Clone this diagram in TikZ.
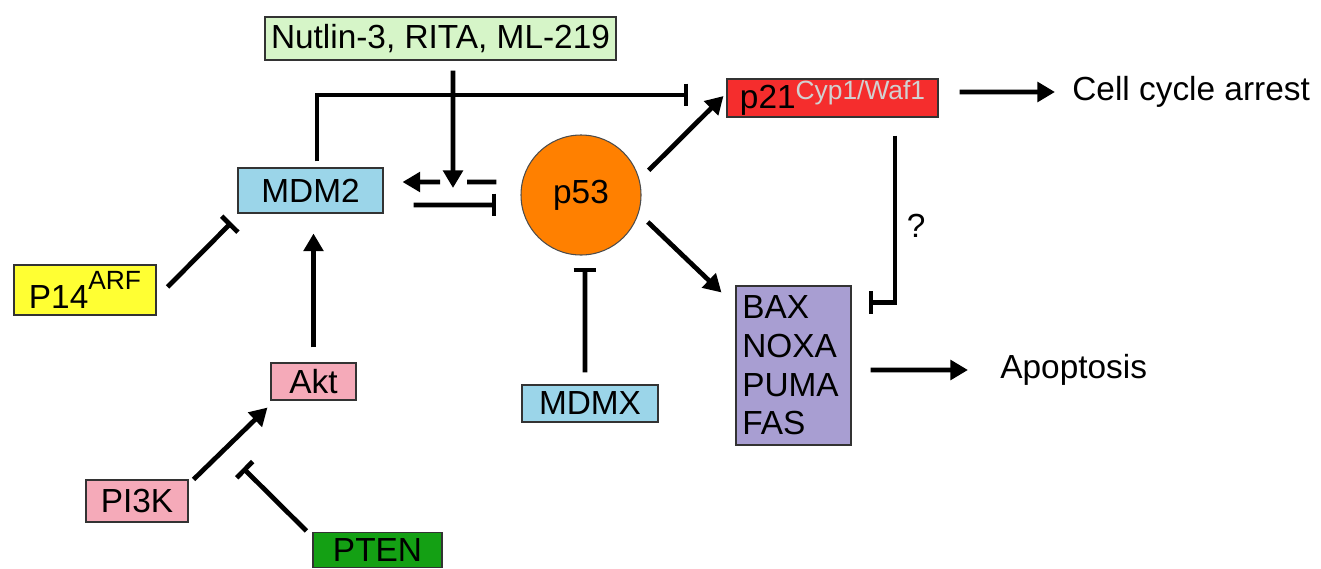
\documentclass[tikz,border=0pt]{standalone}
\usepackage{fontspec}
\setmainfont{Liberation Sans}
\usepackage{xcolor}
\definecolor{nutgreen}{RGB}{214,245,200}
\definecolor{mdmblue}{RGB}{155,213,233}
\definecolor{porange}{RGB}{255,128,0}
\definecolor{pred}{RGB}{245,45,45}
\definecolor{baxpurple}{RGB}{168,158,210}
\definecolor{arfyellow}{RGB}{255,255,51}
\definecolor{aktpink}{RGB}{245,170,185}
\definecolor{ptengreen}{RGB}{20,160,20}
\usepackage{tikz}
\usetikzlibrary{
  arrows.meta,
  positioning
}

\begin{document}
\begin{tikzpicture}[
  box/.style={rectangle, draw=black!80, line width=0.6pt, inner sep=1pt, font=\fontsize{19}{22}\selectfont, align=center},
  txt/.style={inner sep=0pt, font=\fontsize{19}{22}\selectfont, anchor=west},
  arr/.style={-{Triangle[length=10pt,width=11pt]}, line width=2.7pt, black},
  inhib/.style={-{Bar[width=13pt]}, line width=2.7pt, black},
  plain/.style={line width=2.7pt, black}
]
  \useasboundingbox (0,0) rectangle (26.42,11.36);

  \node[box, fill=nutgreen, minimum width=7.02cm, minimum height=0.86cm] (nutlin) at (8.81,10.59) {Nutlin-3, RITA, ML-219};
  \node[box, fill=mdmblue, minimum width=2.9cm, minimum height=0.9cm] (mdm2) at (6.21,7.55) {MDM2};
  \node[circle, draw=black!70, line width=0.6pt, fill=porange, minimum size=2.4cm, font=\fontsize{19}{22}\selectfont] (p53) at (11.62,7.46) {p53};
  \node[box, fill=pred, minimum width=4.22cm, minimum height=0.76cm, inner sep=0pt] (p21) at (16.65,9.40)
    {p21\raisebox{5pt}{\fontsize{15}{15}\selectfont\color{white!82!black}Cyp1/Waf1}};
  \node[txt] (cca) at (21.44,9.52) {Cell cycle arrest};
  \node[box, fill=baxpurple, minimum width=2.3cm, minimum height=3.18cm, align=left, text width=2.05cm] (bax) at (15.87,4.05)
    {BAX\\NOXA\\PUMA\\FAS};
  \node[txt] (apop) at (20.0,3.96) {Apoptosis};
  \node[box, fill=arfyellow, minimum width=2.84cm, minimum height=1.0cm] (p14) at (1.70,5.56)
    {P14\raisebox{10.8pt}{\fontsize{15}{15}\selectfont ARF}};
  \node[box, fill=aktpink, minimum width=1.7cm, minimum height=0.74cm] (akt) at (6.27,3.73) {Akt};
  \node[box, fill=aktpink, minimum width=2.04cm, minimum height=0.84cm] (pi3k) at (2.74,1.34) {PI3K};
  \node[box, fill=ptengreen, minimum width=2.58cm, minimum height=0.7cm, inner sep=0pt] (pten) at (7.55,0.36) {PTEN};
  \node[box, fill=mdmblue, minimum width=2.72cm, minimum height=0.74cm] (mdmx) at (11.80,3.29) {MDMX};

  \coordinate (hit) at (9.06,7.60);
  \coordinate (gapR) at (9.34,7.72);
  \coordinate (gapL) at (8.80,7.72);
  \coordinate (ptenhit) at (4.86,2.00);

  \draw[inhib] ([xshift=1.3mm,yshift=1.2mm]mdm2.north) |- ([xshift=-7.6mm,yshift=0.6mm]p21.west);
  \draw[arr] ([xshift=2.5mm,yshift=-2mm]nutlin.south) -- (hit);
  \draw[plain] ([xshift=-4.8mm,yshift=2.6mm]p53.west) -- (gapR);
  \draw[arr] (gapL) -- ([xshift=3.8mm,yshift=1.7mm]mdm2.east);
  \draw[inhib] ([xshift=6mm,yshift=-2.9mm]mdm2.east) -- ([xshift=-4.8mm,yshift=-2mm]p53.west);
  \draw[inhib] ([xshift=2.2mm,yshift=0.6mm]p14.east) -- ([xshift=-1.2mm,yshift=-1.8mm]mdm2.south west);
  \draw[arr] ([yshift=3mm]akt.north) -- ([yshift=-4mm]akt.north |- mdm2.south);
  \draw[arr] ([xshift=1mm]pi3k.north east) -- ([xshift=-0.6mm,yshift=-1.4mm]akt.south west);
  \draw[inhib] ([xshift=-1.2mm,yshift=0.2mm]pten.north west) -- (ptenhit);
  \draw[inhib] ([xshift=-1mm,yshift=2.4mm]mdmx.north) -- ([xshift=0.8mm,yshift=-2.4mm]p53.south);
  \draw[arr] ([shift={(20:2.3mm)}]p53.20) -- ([xshift=-0.6mm,yshift=0.4mm]p21.west);
  \draw[arr] ([shift={(-22:2.3mm)}]p53.-22) -- ([xshift=-2.8mm,yshift=-1.4mm]bax.north west);
  \draw[inhib] ([xshift=12.5mm,yshift=-3.6mm]p21.south) |- node[pos=0.27, right=2pt, font=\fontsize{19}{22}\selectfont]{?} ([xshift=3.4mm,yshift=-3.4mm]bax.north east);
  \draw[arr] ([xshift=4.2mm,yshift=1.2mm]p21.east) -- ([xshift=-3.4mm]cca.west);
  \draw[arr] ([xshift=3.8mm,yshift=-0.9mm]bax.east) -- ([xshift=-6.4mm]apop.west);
\end{tikzpicture}
\end{document}
